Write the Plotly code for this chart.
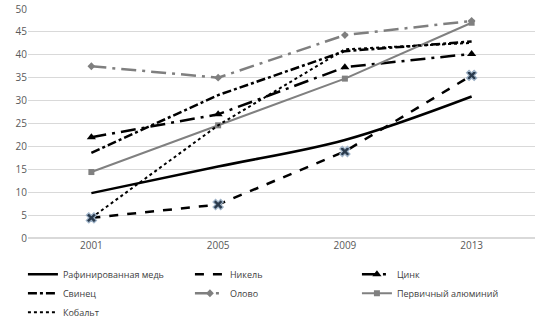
import plotly.graph_objects as go

years = ["2001", "2005", "2009", "2013"]

copper = [9.8, 15.6, 21.4, 30.9]
nickel = [4.4, 7.3, 18.9, 35.5]
zinc = [22.0, 27.0, 37.3, 40.2]
lead = [18.6, 31.2, 40.8, 42.9]
tin = [37.5, 35.0, 44.3, 47.4]
aluminium = [14.4, 24.6, 34.8, 47.0]
cobalt = [4.4, 24.6, 41.2, 42.6]

names = ["Рафинированная медь", "Никель", "Цинк", "Свинец", "Олово",
         "Первичный алюминий", "Кобальт"]

fig = go.Figure()

fig.add_trace(go.Scatter(x=years, y=copper, name=names[0], mode="lines",
                         line=dict(color="black", width=2.5, shape="spline")))
fig.add_trace(go.Scatter(x=years, y=nickel, name=names[1], mode="lines",
                         line=dict(color="black", width=2.5, dash="dash")))
fig.add_trace(go.Scatter(x=years, y=zinc, name=names[2], mode="lines+markers",
                         line=dict(color="black", width=2.5, dash="longdashdot"),
                         marker=dict(symbol="triangle-up", size=8, color="black")))
fig.add_trace(go.Scatter(x=years, y=lead, name=names[3], mode="lines",
                         line=dict(color="black", width=2.5, dash="dashdot")))
fig.add_trace(go.Scatter(x=years, y=tin, name=names[4], mode="lines+markers",
                         line=dict(color="#7f7f7f", width=2.5, dash="longdashdot"),
                         marker=dict(symbol="diamond", size=6, color="#7f7f7f")))
fig.add_trace(go.Scatter(x=years, y=aluminium, name=names[5], mode="lines+markers",
                         line=dict(color="#808080", width=2),
                         marker=dict(symbol="square", size=6, color="#808080")))
fig.add_trace(go.Scatter(x=years, y=cobalt, name=names[6], mode="lines",
                         line=dict(color="black", width=2, dash="dot")))
# point markers on the nickel series
fig.add_trace(go.Scatter(x=years, y=nickel, mode="markers", showlegend=False,
                         marker=dict(symbol="x", size=9, color="#2a3a4c",
                                     line=dict(color="#9fb3c8", width=1.2))))

fig.update_layout(
    width=545, height=324,
    margin=dict(l=28, r=10, t=9, b=86, autoexpand=False),
    paper_bgcolor="white", plot_bgcolor="white",
    font=dict(family="Open Sans, Liberation Sans, sans-serif", size=10, color="#595959"),
    showlegend=True,
    legend=dict(orientation="h", x=-0.01, xanchor="left", y=-0.095, yanchor="top",
                entrywidth=122, entrywidthmode="pixels", tracegroupgap=0,
                font=dict(size=9, color="#404040"), itemwidth=30),
    xaxis=dict(type="category", range=[-0.5, 3.5], showgrid=False, showline=False,
               ticks="", tickfont=dict(size=10, color="#595959")),
    yaxis=dict(range=[0, 50], dtick=5, showgrid=True, gridcolor="#d9d9d9",
               gridwidth=1, zeroline=True, zerolinecolor="#d9d9d9", showline=False,
               ticks="", tickfont=dict(size=10, color="#595959")),
)

fig.write_html("out.html")
